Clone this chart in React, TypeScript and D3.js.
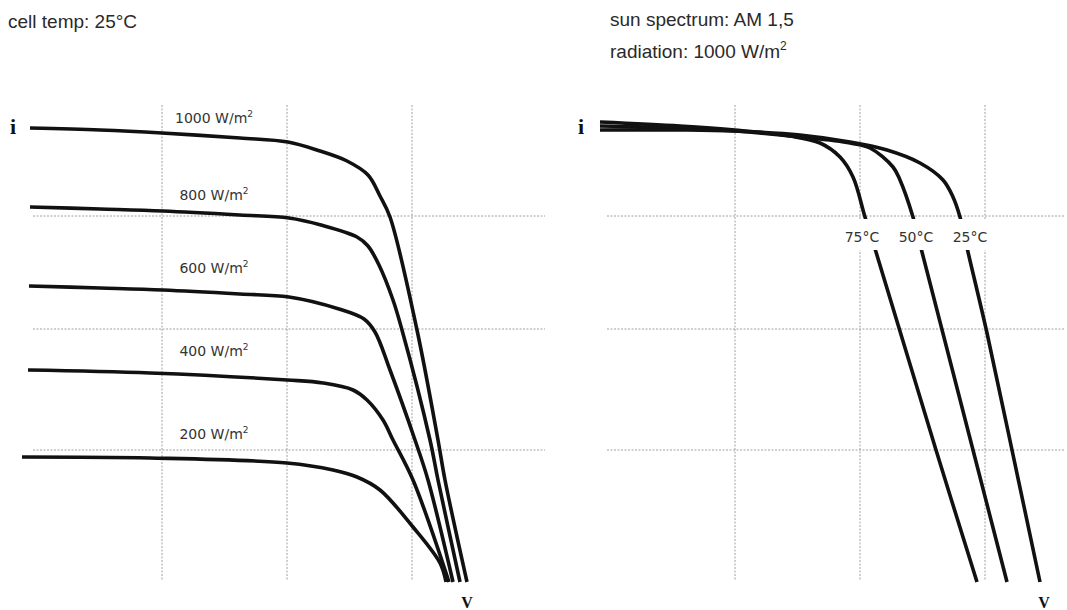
import React from 'react'
import * as d3 from 'd3'

// I-V curves at cell temp 25°C, one per irradiance (volts, amps)
const irradianceLabels = ['1000', '800', '600', '400', '200']
const irr1000 = [[0.008, 4.54], [0.078, 4.52], [0.14, 4.49], [0.218, 4.44], [0.266, 4.4], [0.298, 4.31], [0.325, 4.21], [0.346, 4.07], [0.358, 3.86], [0.368, 3.65], [0.395, 2.52], [0.416, 1.42], [0.423, 1.02], [0.445, 0]]
const irr800 = [[0.008, 3.75], [0.078, 3.73], [0.141, 3.71], [0.218, 3.67], [0.267, 3.64], [0.299, 3.57], [0.335, 3.45], [0.346, 3.36], [0.357, 3.17], [0.371, 2.82], [0.38, 2.52], [0.408, 1.42], [0.416, 1.02], [0.438, 0]]
const irr600 = [[0.007, 2.96], [0.078, 2.94], [0.141, 2.92], [0.218, 2.88], [0.267, 2.85], [0.317, 2.73], [0.342, 2.63], [0.353, 2.5], [0.368, 2.12], [0.393, 1.42], [0.406, 1.02], [0.431, 0]]
const irr400 = [[0.006, 2.12], [0.128, 2.09], [0.265, 2.02], [0.301, 1.99], [0.331, 1.92], [0.345, 1.82], [0.361, 1.62], [0.371, 1.42], [0.391, 1.02], [0.427, 0]]
const irr200 = [[0, 1.25], [0.128, 1.24], [0.265, 1.19], [0.311, 1.12], [0.335, 1.05], [0.358, 0.92], [0.391, 0.55], [0.418, 0.19], [0.424, 0]]
const irradianceCurves = [irr1000, irr800, irr600, irr400, irr200]
const irradianceLabelI = [4.59, 3.82, 3.09, 2.26, 1.43]

// I-V curves at 1000 W/m², one per cell temperature
const tempLabels = ['75°C', '50°C', '25°C']
const temp75 = [[0.005, 4.6], [0.085, 4.56], [0.14, 4.52], [0.195, 4.46], [0.225, 4.39], [0.245, 4.25], [0.258, 4.05], [0.27, 3.65], [0.281, 3.3], [0.341, 1.32], [0.382, 0]]
const temp50 = [[0.005, 4.56], [0.085, 4.54], [0.14, 4.51], [0.205, 4.45], [0.255, 4.39], [0.275, 4.34], [0.298, 4.15], [0.305, 4.02], [0.318, 3.65], [0.327, 3.3], [0.378, 1.32], [0.412, 0]]
const temp25 = [[0.005, 4.52], [0.085, 4.52], [0.14, 4.51], [0.205, 4.47], [0.255, 4.4], [0.292, 4.32], [0.325, 4.19], [0.348, 4.02], [0.358, 3.85], [0.365, 3.65], [0.373, 3.3], [0.392, 2.49], [0.417, 1.32], [0.445, 0]]
const tempCurves = [temp75, temp50, temp25]
const tempLabelV = [0.267, 0.321, 0.375]

// grid lines (shared by both panels)
const gridV = [0.14, 0.265, 0.39]
const gridI = [1.32, 2.53, 3.66]

const width = 1067,
  height = 610

const y = d3.scaleLinear().domain([0, 4.55]).range([582, 127])
const xLeft = d3.scaleLinear().domain([0, 0.5]).range([22, 522])
const xRight = d3.scaleLinear().domain([0, 0.5]).range([595, 1095])

const gridStyle = { stroke: '#a0a0a0', strokeWidth: 1, strokeDasharray: '2 1.5' }
const curveStyle = { fill: 'none', stroke: '#111', strokeWidth: 3.6, strokeLinejoin: 'round' as const }
const labelFont = '"DejaVu Sans", sans-serif'
const headFont = '"Liberation Sans", Arial, sans-serif'
const axisFont = '"Liberation Serif", serif'

function Grid({ x, v0, v1 }) {
  return (
    <g>
      {gridV.map((v, k) => (
        <line key={'v' + k} x1={x(v)} x2={x(v)} y1={y(4.77)} y2={y(0.02)} {...gridStyle} />
      ))}
      {gridI.map((i, k) => (
        <line key={'h' + k} x1={x(v0)} x2={x(v1)} y1={y(i)} y2={y(i)} {...gridStyle} />
      ))}
    </g>
  )
}

export default function App() {
  const lineL = d3
    .line()
    .x(d => xLeft(d[0]))
    .y(d => y(d[1]))
    .curve(d3.curveCatmullRom.alpha(0.5))

  const lineR = d3
    .line()
    .x(d => xRight(d[0]))
    .y(d => y(d[1]))
    .curve(d3.curveCatmullRom.alpha(0.5))

  return (
    <svg width={width} height={height} style={{ position: 'absolute', left: 0, top: 0, background: '#fff' }}>
      {/* headings */}
      <text x={8} y={28} fontFamily={headFont} fontSize={19} fill="#2a2a2a">
        cell temp: 25°C
      </text>
      <text x={610} y={26} fontFamily={headFont} fontSize={19} fill="#2a2a2a">
        sun spectrum: AM 1,5
      </text>
      <text x={610} y={58} fontFamily={headFont} fontSize={19} fill="#2a2a2a">
        radiation: 1000 W/m
        <tspan fontSize={12} dy={-8}>
          2
        </tspan>
      </text>

      {/* left panel: irradiance */}
      <Grid x={xLeft} v0={0.011} v1={0.523} />
      {irradianceCurves.map((c, k) => (
        <path key={k} d={lineL(c)} {...curveStyle} />
      ))}
      {irradianceLabels.map((t, k) => (
        <text key={k} x={xLeft(0.192)} y={y(irradianceLabelI[k])} textAnchor="middle" fontFamily={labelFont} fontSize={14} fill="#333">
          {t} W/m
          <tspan fontSize={9} dy={-6}>
            2
          </tspan>
        </text>
      ))}
      <text x={xLeft(0) - 12} y={y(4.48)} fontFamily={axisFont} fontWeight="bold" fontSize={22} fill="#111">
        i
      </text>
      <text x={xLeft(0.445)} y={y(-0.26)} textAnchor="middle" fontFamily={axisFont} fontWeight="bold" fontSize={16} fill="#111">
        V
      </text>

      {/* right panel: temperature */}
      <Grid x={xRight} v0={0.012} v1={0.47} />
      {tempCurves.map((c, k) => (
        <path key={k} d={lineR(c)} {...curveStyle} />
      ))}
      {tempLabels.map((t, k) => (
        <g key={k}>
          <rect x={xRight(tempLabelV[k]) - 19} width={38} y={y(3.63)} height={y(3.32) - y(3.63)} fill="#fff" />
          <text x={xRight(tempLabelV[k])} y={y(3.4)} textAnchor="middle" fontFamily={labelFont} fontSize={14} fill="#333">
            {t}
          </text>
        </g>
      ))}
      <text x={xRight(0) - 17} y={y(4.48)} fontFamily={axisFont} fontWeight="bold" fontSize={22} fill="#111">
        i
      </text>
      <text x={xRight(0.449)} y={y(-0.26)} textAnchor="middle" fontFamily={axisFont} fontWeight="bold" fontSize={16} fill="#111">
        V
      </text>
    </svg>
  )
}
